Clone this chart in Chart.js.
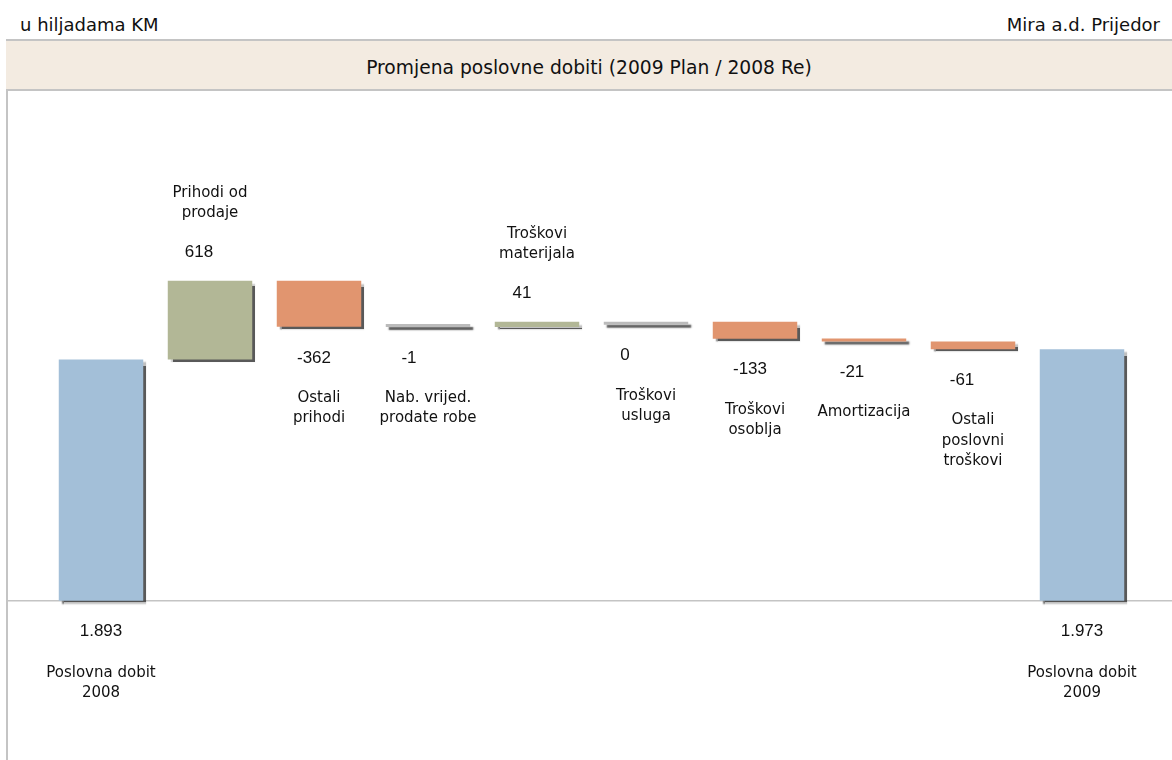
<!DOCTYPE html>
<html>
<head>
    <meta charset="utf-8">
    <title>Promjena poslovne dobiti</title>
    <script src="https://cdn.jsdelivr.net/npm/chart.js"></script>
    <style>
        body { margin: 0; width: 1172px; height: 760px; background: #fff; overflow: hidden; position: relative;
               font-family: "DejaVu Sans", sans-serif; color: #111; }
        .unit { position: absolute; left: 20px; top: 13px; font-size: 18px; line-height: 24px; }
        .firm { position: absolute; right: 12px; top: 13px; font-size: 18px; line-height: 24px; }
        .leftline { position: absolute; left: 6px; top: 39px; width: 2px; height: 721px; background: #c4c4c4; }
        .band { position: absolute; left: 6px; top: 39px; width: 1166px; height: 48px; background: #f3ebe1;
                border-top: 2px solid #c4c4c4; border-bottom: 2px solid #c4c4c4; }
        .band div { position: absolute; left: 0; right: 0; top: 3px; text-align: center; font-size: 18.7px; line-height: 48px; }
        .plot { position: absolute; left: 8px; top: 91px; width: 1164px; height: 669px; }
    </style>
</head>
<body>
<div class="unit">u hiljadama KM</div>
<div class="firm">Mira a.d. Prijedor</div>
<div class="leftline"></div>
<div class="band"><div>Promjena poslovne dobiti (2009 Plan / 2008 Re)</div></div>
<div class="plot">
    <canvas id="waterfall" width="1164" height="669" style="width:1164px;height:669px"></canvas>
</div>
<script>
    // podaci (u hiljadama KM)
    const categories = [
        ['Poslovna dobit', '2008'],
        ['Prihodi od', 'prodaje'],
        ['Ostali', 'prihodi'],
        ['Nab. vrijed.', 'prodate robe'],
        ['Troškovi', 'materijala'],
        ['Troškovi', 'usluga'],
        ['Troškovi', 'osoblja'],
        ['Amortizacija'],
        ['Ostali', 'poslovni', 'troškovi'],
        ['Poslovna dobit', '2009']
    ];
    const values = [1893, 618, -362, -1, 41, 0, -133, -21, -61, 1973];
    const isTotal = [true, false, false, false, false, false, false, false, false, true];

    // pomak brojeva lijevo od sredine stupca, kao na originalu
    const valueShift = [0, -11, -5, -19, -15, -21, -5, -12, -11, 0];

    const colTotal = '#a3bfd8', colUp = '#b2b796', colDown = '#e1956f', colFlat = '#bbbbbb';

    // plutajuci stupci za waterfall
    let running = 0;
    const ranges = values.map((v, i) => {
        if (isTotal[i]) { running = v; return [0, v]; }
        const r = [running, running + v];
        running += v;
        return r;
    });
    const colors = values.map((v, i) => {
        if (isTotal[i]) return colTotal;
        if (Math.abs(v) < 5) return colFlat;
        return v > 0 ? colUp : colDown;
    });

    function fmt(v, total) {
        if (!total) return String(v);
        return String(v).replace(/\B(?=(\d{3})+(?!\d))/g, '.');
    }

    const waterfallDecor = {
        id: 'waterfallDecor',
        beforeDatasetsDraw(chart) {
            const ctx = chart.ctx;
            const y0 = chart.scales.y.getPixelForValue(0);
            ctx.save();
            ctx.strokeStyle = '#c4c4c4';
            ctx.lineWidth = 1.5;
            ctx.beginPath();
            ctx.moveTo(0, y0);
            ctx.lineTo(chart.width, y0);
            ctx.stroke();
            ctx.restore();
            // sjena ispod stupaca
            ctx.save();
            ctx.shadowColor = 'rgba(60,60,60,0.85)';
            ctx.shadowOffsetX = 3;
            ctx.shadowOffsetY = 3;
            ctx.shadowBlur = 1.5;
        },
        afterDatasetsDraw(chart) {
            const ctx = chart.ctx;
            ctx.restore();
            const y0 = chart.scales.y.getPixelForValue(0);
            const bars = chart.getDatasetMeta(0).data;
            ctx.save();
            ctx.fillStyle = '#111';
            ctx.textAlign = 'center';
            ctx.textBaseline = 'middle';
            bars.forEach((bar, i) => {
                const p = bar.getProps(['x', 'y', 'base'], true);
                const top = Math.min(p.y, p.base);
                const bottom = Math.max(p.y, p.base);
                const lines = categories[i];
                let valueY, nameY;
                if (isTotal[i]) {
                    valueY = y0 + 31;
                    nameY = valueY + 41;
                } else if (values[i] > 0) {
                    valueY = top - 28;
                    nameY = valueY - 40 - (lines.length - 1) * 20;
                } else {
                    valueY = bottom + 31;
                    nameY = valueY + 40;
                }
                ctx.font = '17px "Liberation Sans", Arial, sans-serif';
                ctx.fillText(fmt(values[i], isTotal[i]), p.x + valueShift[i], valueY);
                ctx.font = '15px "DejaVu Sans", sans-serif';
                lines.forEach((t, k) => ctx.fillText(t, p.x, nameY + k * 20.5));
            });
            ctx.restore();
        }
    };

    let ctx = document.getElementById('waterfall').getContext('2d');
    let chart = new Chart(ctx, {
        type: 'bar',
        data: {
            labels: categories.map(c => c.join(' ')),
            datasets: [{
                data: ranges,
                backgroundColor: colors,
                borderWidth: 0,
                minBarLength: 3,
                categoryPercentage: 1,
                barPercentage: 0.775
            }]
        },
        options: {
            responsive: false,
            animation: false,
            layout: { padding: { left: 38.5, right: 35.5, top: 0, bottom: 0 } },
            scales: {
                x: { display: false },
                y: { display: false, min: -1250, max: 4000 }
            },
            plugins: {
                legend: { display: false },
                tooltip: { enabled: false }
            }
        },
        plugins: [waterfallDecor]
    });
</script>
</body>
</html>
